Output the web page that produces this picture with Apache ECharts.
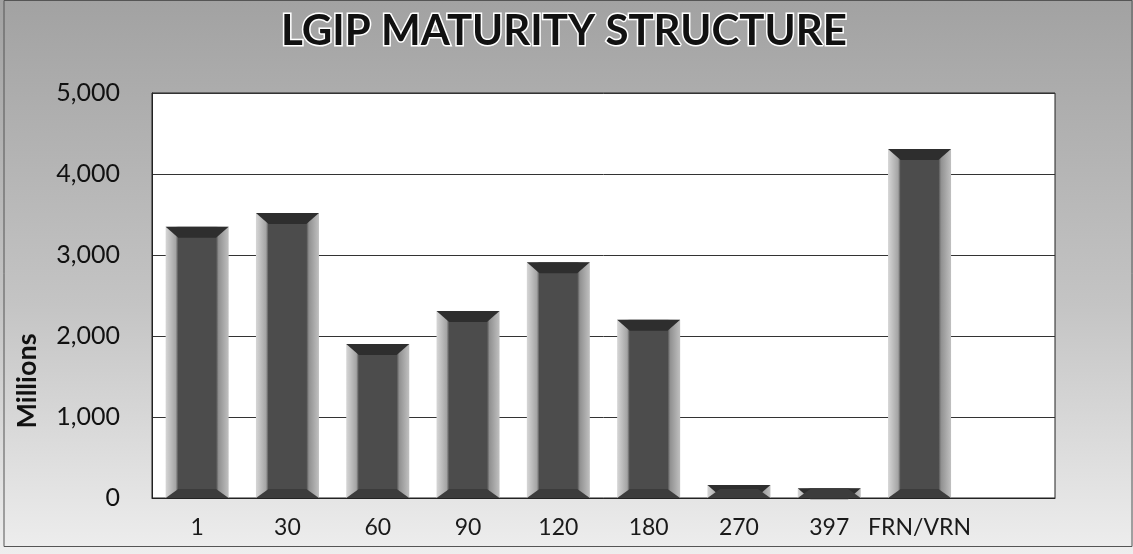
<!DOCTYPE html>
<html>
<head>
<meta charset="utf-8">
<title>LGIP Maturity Structure</title>
<script src="https://cdn.jsdelivr.net/npm/echarts@6/dist/echarts.min.js"></script>
<style>
    html, body { margin: 0; padding: 0; }
    #chart { width: 1133px; height: 554px; }
</style>
</head>
<body>
<div id="chart"></div>
<script>
// categories (days to maturity); the last one is the blank row the sheet left in
var categories = ['1', '30', '60', '90', '120', '180', '270', '397', 'FRN/VRN', ''];
// amounts in millions
var amounts = [3350, 3520, 1900, 2310, 2910, 2200, 160, 120, 4310, null];
var yTicks = [0, 1000, 2000, 3000, 4000, 5000];

var font = 'Lato, "Open Sans", sans-serif';

function fmt(v) {
    return String(v).replace(/\B(?=(\d{3})+(?!\d))/g, ',');
}

var myChart = echarts.init(document.getElementById('chart'));

var barFill = new echarts.graphic.LinearGradient(0, 0, 1, 0, [
    {offset: 0, color: '#d6d6d6'},
    {offset: 0.16, color: '#a4a4a4'},
    {offset: 0.2, color: '#4c4c4c'},
    {offset: 0.8, color: '#4c4c4c'},
    {offset: 0.84, color: '#909090'},
    {offset: 1, color: '#c0c0c0'}
]);

var option = {
    backgroundColor: new echarts.graphic.LinearGradient(0, 0, 0, 1, [
        {offset: 0, color: '#a2a2a2'},
        {offset: 0.55, color: '#c4c4c4'},
        {offset: 1, color: '#eeeeee'}
    ]),
    animation: false,
    title: {
        text: 'LGIP MATURITY STRUCTURE',
        left: 559,
        textAlign: 'center',
        top: 5,
        textStyle: {
            fontFamily: font,
            fontWeight: 'bold',
            fontSize: 42,
            color: '#111',
            textBorderColor: '#fff',
            textBorderWidth: 3
        }
    },
    grid: {
        left: 152,
        right: 78,
        top: 93,
        bottom: 56,
        show: true,
        backgroundColor: '#fff',
        borderColor: '#222',
        borderWidth: 1
    },
    xAxis: {
        type: 'category',
        data: categories,
        axisTick: {show: false},
        axisLine: {lineStyle: {color: '#222', width: 1}},
        axisLabel: {
            interval: 0,
            fontFamily: font,
            fontSize: 23,
            color: '#1a1a1a',
            margin: 18
        }
    },
    yAxis: {
        type: 'value',
        min: yTicks[0],
        max: yTicks[yTicks.length - 1],
        interval: 1000,
        axisLine: {show: true, lineStyle: {color: '#222'}},
        axisTick: {show: false},
        splitLine: {lineStyle: {color: '#333', width: 1}},
        axisLabel: {
            fontFamily: font,
            fontSize: 25,
            color: '#111',
            margin: 32,
            formatter: function (v) { return fmt(v); }
        }
    },
    graphic: [
        {
            type: 'text',
            x: 27,
            y: 381,
            rotation: Math.PI / 2,
            style: {
                text: 'Millions',
                fontFamily: font,
                fontWeight: 'bold',
                fontSize: 27,
                fill: '#111',
                align: 'center',
                verticalAlign: 'middle'
            }
        },
        {
            type: 'rect',
            shape: {x: 4, y: 0.5, width: 1128, height: 546},
            style: {fill: 'none', stroke: '#555', lineWidth: 1},
            silent: true
        }
    ],
    series: [
        {
            name: 'body',
            type: 'bar',
            data: amounts,
            barWidth: 63,
            itemStyle: {color: barFill}
        },
        {
            // dark top face of the bevel
            name: 'top',
            type: 'pictorialBar',
            data: amounts,
            symbol: 'path://M0,0 L100,0 L80,20 L20,20 Z',
            symbolSize: [63, 11],
            symbolPosition: 'end',
            itemStyle: {color: '#2e2e2e'},
            z: 3
        },
        {
            // darker bottom face
            name: 'bottom',
            type: 'pictorialBar',
            data: amounts,
            symbol: 'path://M20,0 L80,0 L100,20 L0,20 Z',
            symbolSize: [63, 9],
            symbolPosition: 'start',
            itemStyle: {color: '#3c3c3c'},
            z: 3
        }
    ]
};

myChart.setOption(option);
</script>
</body>
</html>
